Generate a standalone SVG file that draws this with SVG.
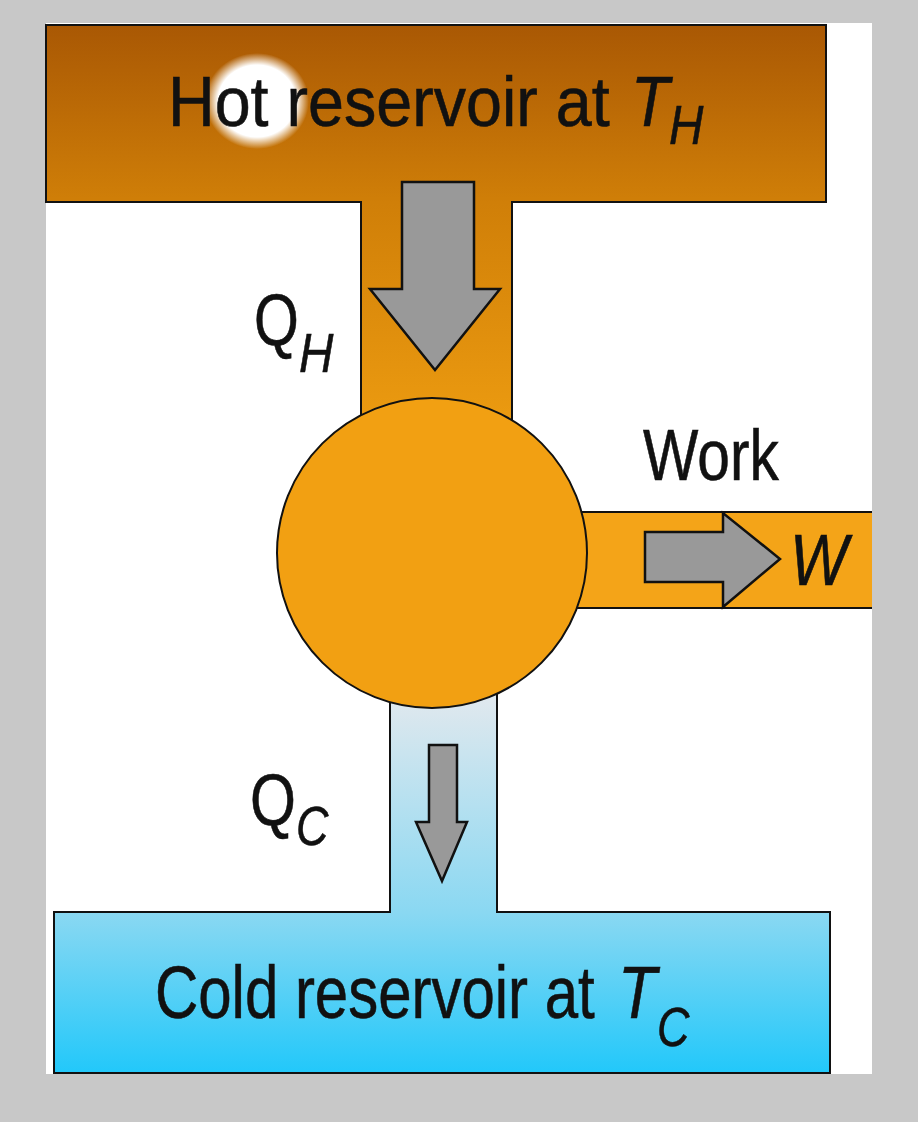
<svg xmlns="http://www.w3.org/2000/svg" width="918" height="1122" viewBox="0 0 918 1122">
  <defs>
    <linearGradient id="hotGrad" gradientUnits="userSpaceOnUse" x1="0" y1="25" x2="0" y2="420">
      <stop offset="0" stop-color="#a95804"/>
      <stop offset="0.45" stop-color="#d07f08"/>
      <stop offset="1" stop-color="#eb9a10"/>
    </linearGradient>
    <linearGradient id="coldGrad" gradientUnits="userSpaceOnUse" x1="0" y1="700" x2="0" y2="1073">
      <stop offset="0" stop-color="#dfe8ee"/>
      <stop offset="0.57" stop-color="#8ad8f2"/>
      <stop offset="1" stop-color="#22c8fa"/>
    </linearGradient>
    <radialGradient id="glow" cx="0.5" cy="0.5" r="0.5">
      <stop offset="0" stop-color="#ffffff"/>
      <stop offset="0.75" stop-color="#ffffff"/>
      <stop offset="1" stop-color="#ffffff" stop-opacity="0"/>
    </radialGradient>
    <style>
      .outline { stroke: #111; stroke-width: 2; }
      .arrow { fill: #999999; stroke: #111; stroke-width: 2.5; stroke-linejoin: miter; }
      .lbl { font-family: "Liberation Sans", Arial, sans-serif; fill: #111; stroke: #111; stroke-width: 0.6; }
      .it { font-style: italic; }
    </style>
  </defs>

  <rect x="0" y="0" width="918" height="1122" fill="#c8c8c8"/>
  <rect x="46" y="23" width="826" height="1051" fill="#ffffff"/>

  <g id="hot-reservoir">
    <path class="outline" fill="url(#hotGrad)" d="M46,25 H826 V202 H512 V470 H361 V202 H46 Z"/>
    <ellipse cx="257" cy="101" rx="52" ry="48" fill="url(#glow)"/>
    <text class="lbl" font-size="71" transform="translate(168,126) scale(0.91,1)">Hot reservoir at</text>
    <text class="lbl it" font-size="71" transform="translate(631,126) scale(0.88,1)">T</text>
    <text class="lbl it" font-size="56" transform="translate(669,144) scale(0.85,1)">H</text>
  </g>

  <g id="cold-reservoir">
    <path class="outline" fill="url(#coldGrad)" d="M390,600 V912 H54 V1073 H830 V912 H497 V600 Z"/>
    <text class="lbl" font-size="74" transform="translate(155,1018) scale(0.81,1)">Cold reservoir at</text>
    <text class="lbl it" font-size="74" transform="translate(618,1018) scale(0.85,1)">T</text>
    <text class="lbl it" font-size="56" transform="translate(657,1046) scale(0.8,1)">C</text>
  </g>

  <g id="work-output">
    <rect x="520" y="512" width="352" height="96" fill="#f4a418"/>
    <line class="outline" x1="520" y1="512" x2="872" y2="512"/>
    <line class="outline" x1="520" y1="608" x2="872" y2="608"/>
    <text class="lbl" font-size="72" transform="translate(643,480) scale(0.815,1)">Work</text>
    <text class="lbl it" font-size="72" transform="translate(790,585) scale(0.85,1)">W</text>
  </g>

  <g id="engine">
    <circle class="outline" cx="432" cy="553" r="155" fill="#f2a012"/>
  </g>

  <g id="connectors">
    <polygon class="arrow" points="402,182 474,182 474,289 500,289 435,370 370,289 402,289"/>
    <polygon class="arrow" points="645,532 723,532 723,513 780,559 723,607 723,582 645,582"/>
    <polygon class="arrow" points="429,745 457,745 457,822 467,822 442,881 416,822 429,822"/>
  </g>

  <g id="flow-labels">
    <text class="lbl" font-size="72" transform="translate(254,345) scale(0.8,1)">Q</text>
    <text class="lbl it" font-size="56" transform="translate(299,372) scale(0.85,1)">H</text>
    <text class="lbl" font-size="72" transform="translate(250,825) scale(0.82,1)">Q</text>
    <text class="lbl it" font-size="56" transform="translate(296,845) scale(0.8,1)">C</text>
  </g>
</svg>
